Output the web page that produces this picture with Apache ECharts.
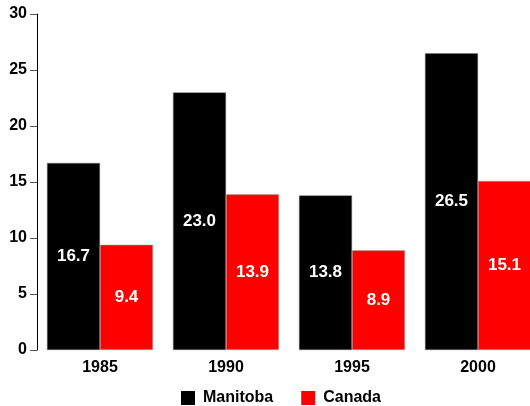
<!DOCTYPE html>
<html><head><meta charset="utf-8">
<script src="https://cdn.jsdelivr.net/npm/echarts@6/dist/echarts.min.js"></script>
<style>html,body{margin:0;padding:0;background:#fff;overflow:hidden;width:530px;height:406px}#c{width:541px;height:406px}</style>
</head><body><div id="c"></div>
<script>
const categories = ['1985', '1990', '1995', '2000'];
const manitoba = [16.7, 23.0, 13.8, 26.5];
const canada = [9.4, 13.9, 8.9, 15.1];
const yTicks = [0, 5, 10, 15, 20, 25, 30];

const chart = echarts.init(document.getElementById('c'), null, {renderer: 'canvas'});
const font = {fontFamily: 'Liberation Sans, Arial, sans-serif', fontWeight: 'bold', fontSize: 16, color: '#000'};
const lbl = {show: true, position: 'inside', color: '#fff', fontFamily: font.fontFamily, fontWeight: 'bold', fontSize: 17, formatter: p => p.value.toFixed(1)};
chart.setOption({
  animation: false,
  grid: {left: 37, top: 14, right: 0, bottom: 56, containLabel: false},
  xAxis: {type: 'category', data: categories,
    axisLine: {show: false}, axisTick: {show: false},
    axisLabel: Object.assign({margin: 10}, font)},
  yAxis: {type: 'value', min: 0, max: 30, interval: 5,
    axisLine: {show: true, lineStyle: {color: '#000', width: 1}},
    axisTick: {show: true, inside: false, length: 7, lineStyle: {color: '#555'}},
    splitLine: {show: false},
    axisLabel: Object.assign({margin: 10, formatter: v => yTicks.includes(v) ? String(v) : ''}, font)},
  legend: {top: 385, left: 176, itemWidth: 14, itemHeight: 14, itemGap: 28,
    itemStyle: {borderWidth: 0},
    textStyle: Object.assign({}, font, {padding: [0, 0, 0, 3]}), icon: 'rect',
    data: ['Manitoba', 'Canada']},
  series: [
    {name: 'Manitoba', type: 'bar', data: manitoba, barWidth: 53, barGap: '0%',
      itemStyle: {color: '#000', borderColor: '#777', borderWidth: 0.5}, label: lbl},
    {name: 'Canada', type: 'bar', data: canada, barWidth: 53, barGap: '0%',
      itemStyle: {color: '#ff0000', borderColor: '#aaa', borderWidth: 0.5}, label: lbl}
  ]
});
</script></body></html>
